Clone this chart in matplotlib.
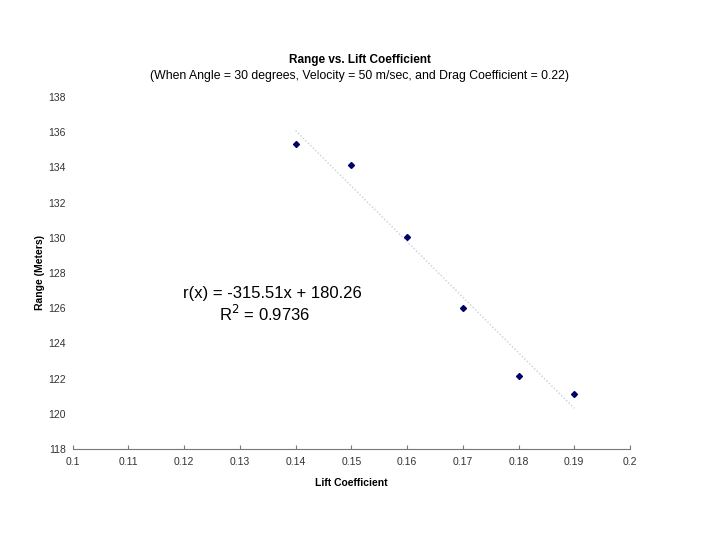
import matplotlib
matplotlib.use('Agg')
import matplotlib.pyplot as plt
import numpy as np

plt.rcParams['font.family'] = ['Liberation Sans', 'DejaVu Sans']

lift = [0.14, 0.15, 0.16, 0.17, 0.18, 0.19]
range_m = [135.33, 134.14, 130.05, 126.0, 122.15, 121.13]
slope = -315.51
intercept = 180.26
r2 = 0.9736
xticks = [0.1, 0.11, 0.12, 0.13, 0.14, 0.15, 0.16, 0.17, 0.18, 0.19, 0.2]
yticks = [118, 120, 122, 124, 126, 128, 130, 132, 134, 136, 138]

fig = plt.figure(figsize=(7.2, 5.4), dpi=100)
ax = fig.add_axes([0.101, 0.1685, 0.774, 0.652])

# trend line
tx = np.array([lift[0], lift[-1]])
ax.plot(tx, slope * tx + intercept, linestyle=(0, (1, 1.5)), color='#c4d2d6', lw=1.0, zorder=1)
ax.plot(lift, range_m, linestyle='none', marker='D', markersize=3, color='#000066', zorder=2)

ax.set_xlim(0.1, 0.2)
ax.set_ylim(118, 138)
ax.set_xticks(xticks)
ax.set_xticklabels([f'{v:g}' for v in xticks])
ax.set_yticks(yticks)
for s in ['left', 'top', 'right']:
    ax.spines[s].set_visible(False)
ax.spines['bottom'].set_color('#777777')
ax.spines['bottom'].set_linewidth(0.8)
ax.tick_params(axis='x', direction='in', length=3, color='#777777', labelsize=7.5,
               labelcolor='#333333', pad=6)
ax.tick_params(axis='y', length=0, labelsize=7.5, labelcolor='#333333', pad=5)

ax.set_xlabel('Lift Coefficient', fontsize=7.5, fontweight='bold', labelpad=8)
ax.set_ylabel('Range (Meters)', fontsize=7.5, fontweight='bold', labelpad=2)

fig.text(0.5, 0.889, 'Range vs. Lift Coefficient', ha='center', va='center',
         fontsize=8.5, fontweight='bold')
fig.text(0.5, 0.859, '(When Angle = 30 degrees, Velocity = 50 m/sec, and Drag Coefficient = 0.22)',
         ha='center', va='center', fontsize=8.8)

ax.text(0.1197, 126.86, f'r(x) = {slope}x + {intercept}', ha='left', va='center', fontsize=12)
ax.text(0.1262, 125.7, f'R$^2$ = {r2}', ha='left', va='center', fontsize=12)

fig.savefig('out.png', dpi=100)
